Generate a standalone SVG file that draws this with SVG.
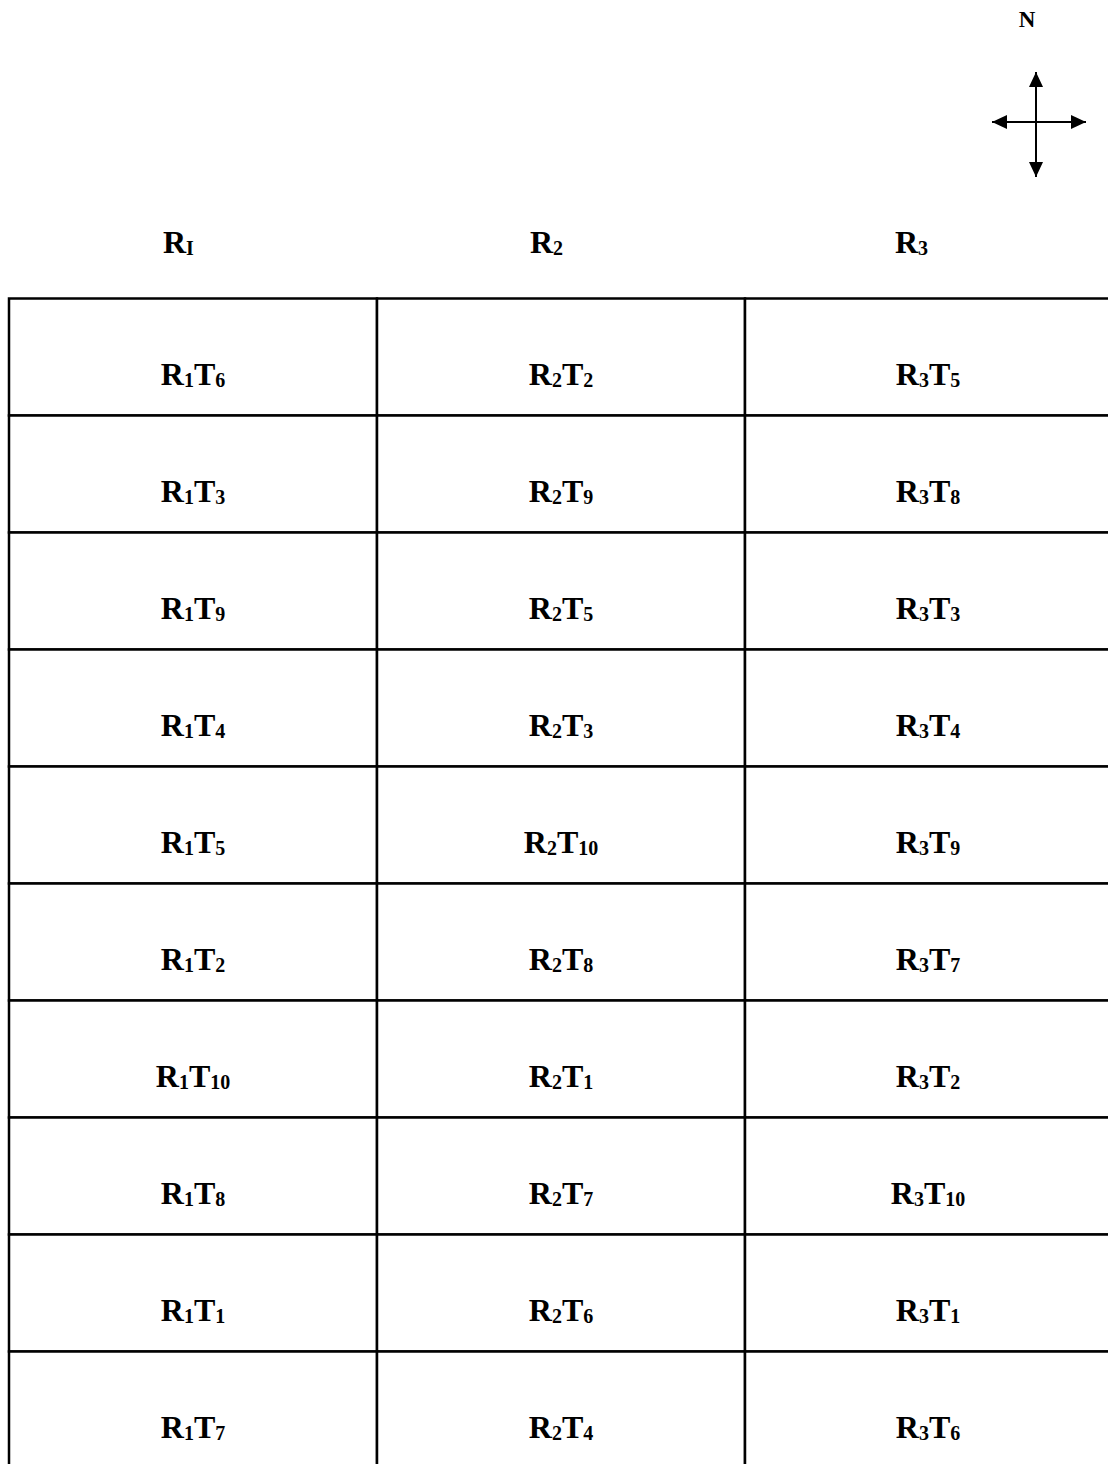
<svg xmlns="http://www.w3.org/2000/svg" width="1108" height="1464" viewBox="0 0 1108 1464">
<style>
text{font-family:"Liberation Serif","Times New Roman",serif;font-weight:bold;fill:#000}
.t{font-size:32px}
.s{font-size:20px}
.n{font-size:23px}
.cell{fill:#fff;stroke:#000;stroke-width:2.5}
.ax{stroke:#000;stroke-width:2;fill:none}
</style>
<defs>
<marker id="ah" markerUnits="userSpaceOnUse" markerWidth="16" markerHeight="14" refX="15" refY="7" orient="auto">
<path d="M0,0 L15,7 L0,14 Z" fill="#000"/>
</marker>
</defs>
<rect width="1108" height="1464" fill="#fff"/>
<g id="compass">
<text class="n" x="1027" y="27" text-anchor="middle">N</text>
<g id="connectors">
<line class="ax" x1="1036" y1="122" x2="1036" y2="72" marker-end="url(#ah)"/>
<line class="ax" x1="1036" y1="122" x2="1036" y2="177" marker-end="url(#ah)"/>
<line class="ax" x1="1036" y1="122" x2="992" y2="122" marker-end="url(#ah)"/>
<line class="ax" x1="1036" y1="122" x2="1086" y2="122" marker-end="url(#ah)"/>
</g>
</g>
<g id="headers">
<text class="t" x="163" y="253">R<tspan class="s" dy="2">I</tspan></text>
<text class="t" x="530" y="253">R<tspan class="s" dy="2">2</tspan></text>
<text class="t" x="895" y="253">R<tspan class="s" dy="2">3</tspan></text>
</g>
<g id="table">
<g id="r1c1"><rect class="cell" x="9" y="298.5" width="368" height="117"/><text class="t" x="193" y="385" text-anchor="middle">R<tspan class="s" dy="2">1</tspan><tspan dy="-2">T</tspan><tspan class="s" dy="2">6</tspan></text></g>
<g id="r1c2"><rect class="cell" x="377" y="298.5" width="368" height="117"/><text class="t" x="561" y="385" text-anchor="middle">R<tspan class="s" dy="2">2</tspan><tspan dy="-2">T</tspan><tspan class="s" dy="2">2</tspan></text></g>
<g id="r1c3"><rect class="cell" x="745" y="298.5" width="366" height="117"/><text class="t" x="928" y="385" text-anchor="middle">R<tspan class="s" dy="2">3</tspan><tspan dy="-2">T</tspan><tspan class="s" dy="2">5</tspan></text></g>

<g id="r2c1"><rect class="cell" x="9" y="415.5" width="368" height="117"/><text class="t" x="193" y="502" text-anchor="middle">R<tspan class="s" dy="2">1</tspan><tspan dy="-2">T</tspan><tspan class="s" dy="2">3</tspan></text></g>
<g id="r2c2"><rect class="cell" x="377" y="415.5" width="368" height="117"/><text class="t" x="561" y="502" text-anchor="middle">R<tspan class="s" dy="2">2</tspan><tspan dy="-2">T</tspan><tspan class="s" dy="2">9</tspan></text></g>
<g id="r2c3"><rect class="cell" x="745" y="415.5" width="366" height="117"/><text class="t" x="928" y="502" text-anchor="middle">R<tspan class="s" dy="2">3</tspan><tspan dy="-2">T</tspan><tspan class="s" dy="2">8</tspan></text></g>

<g id="r3c1"><rect class="cell" x="9" y="532.5" width="368" height="117"/><text class="t" x="193" y="619" text-anchor="middle">R<tspan class="s" dy="2">1</tspan><tspan dy="-2">T</tspan><tspan class="s" dy="2">9</tspan></text></g>
<g id="r3c2"><rect class="cell" x="377" y="532.5" width="368" height="117"/><text class="t" x="561" y="619" text-anchor="middle">R<tspan class="s" dy="2">2</tspan><tspan dy="-2">T</tspan><tspan class="s" dy="2">5</tspan></text></g>
<g id="r3c3"><rect class="cell" x="745" y="532.5" width="366" height="117"/><text class="t" x="928" y="619" text-anchor="middle">R<tspan class="s" dy="2">3</tspan><tspan dy="-2">T</tspan><tspan class="s" dy="2">3</tspan></text></g>

<g id="r4c1"><rect class="cell" x="9" y="649.5" width="368" height="117"/><text class="t" x="193" y="736" text-anchor="middle">R<tspan class="s" dy="2">1</tspan><tspan dy="-2">T</tspan><tspan class="s" dy="2">4</tspan></text></g>
<g id="r4c2"><rect class="cell" x="377" y="649.5" width="368" height="117"/><text class="t" x="561" y="736" text-anchor="middle">R<tspan class="s" dy="2">2</tspan><tspan dy="-2">T</tspan><tspan class="s" dy="2">3</tspan></text></g>
<g id="r4c3"><rect class="cell" x="745" y="649.5" width="366" height="117"/><text class="t" x="928" y="736" text-anchor="middle">R<tspan class="s" dy="2">3</tspan><tspan dy="-2">T</tspan><tspan class="s" dy="2">4</tspan></text></g>

<g id="r5c1"><rect class="cell" x="9" y="766.5" width="368" height="117"/><text class="t" x="193" y="853" text-anchor="middle">R<tspan class="s" dy="2">1</tspan><tspan dy="-2">T</tspan><tspan class="s" dy="2">5</tspan></text></g>
<g id="r5c2"><rect class="cell" x="377" y="766.5" width="368" height="117"/><text class="t" x="561" y="853" text-anchor="middle">R<tspan class="s" dy="2">2</tspan><tspan dy="-2">T</tspan><tspan class="s" dy="2">10</tspan></text></g>
<g id="r5c3"><rect class="cell" x="745" y="766.5" width="366" height="117"/><text class="t" x="928" y="853" text-anchor="middle">R<tspan class="s" dy="2">3</tspan><tspan dy="-2">T</tspan><tspan class="s" dy="2">9</tspan></text></g>

<g id="r6c1"><rect class="cell" x="9" y="883.5" width="368" height="117"/><text class="t" x="193" y="970" text-anchor="middle">R<tspan class="s" dy="2">1</tspan><tspan dy="-2">T</tspan><tspan class="s" dy="2">2</tspan></text></g>
<g id="r6c2"><rect class="cell" x="377" y="883.5" width="368" height="117"/><text class="t" x="561" y="970" text-anchor="middle">R<tspan class="s" dy="2">2</tspan><tspan dy="-2">T</tspan><tspan class="s" dy="2">8</tspan></text></g>
<g id="r6c3"><rect class="cell" x="745" y="883.5" width="366" height="117"/><text class="t" x="928" y="970" text-anchor="middle">R<tspan class="s" dy="2">3</tspan><tspan dy="-2">T</tspan><tspan class="s" dy="2">7</tspan></text></g>

<g id="r7c1"><rect class="cell" x="9" y="1000.5" width="368" height="117"/><text class="t" x="193" y="1087" text-anchor="middle">R<tspan class="s" dy="2">1</tspan><tspan dy="-2">T</tspan><tspan class="s" dy="2">10</tspan></text></g>
<g id="r7c2"><rect class="cell" x="377" y="1000.5" width="368" height="117"/><text class="t" x="561" y="1087" text-anchor="middle">R<tspan class="s" dy="2">2</tspan><tspan dy="-2">T</tspan><tspan class="s" dy="2">1</tspan></text></g>
<g id="r7c3"><rect class="cell" x="745" y="1000.5" width="366" height="117"/><text class="t" x="928" y="1087" text-anchor="middle">R<tspan class="s" dy="2">3</tspan><tspan dy="-2">T</tspan><tspan class="s" dy="2">2</tspan></text></g>

<g id="r8c1"><rect class="cell" x="9" y="1117.5" width="368" height="117"/><text class="t" x="193" y="1204" text-anchor="middle">R<tspan class="s" dy="2">1</tspan><tspan dy="-2">T</tspan><tspan class="s" dy="2">8</tspan></text></g>
<g id="r8c2"><rect class="cell" x="377" y="1117.5" width="368" height="117"/><text class="t" x="561" y="1204" text-anchor="middle">R<tspan class="s" dy="2">2</tspan><tspan dy="-2">T</tspan><tspan class="s" dy="2">7</tspan></text></g>
<g id="r8c3"><rect class="cell" x="745" y="1117.5" width="366" height="117"/><text class="t" x="928" y="1204" text-anchor="middle">R<tspan class="s" dy="2">3</tspan><tspan dy="-2">T</tspan><tspan class="s" dy="2">10</tspan></text></g>

<g id="r9c1"><rect class="cell" x="9" y="1234.5" width="368" height="117"/><text class="t" x="193" y="1321" text-anchor="middle">R<tspan class="s" dy="2">1</tspan><tspan dy="-2">T</tspan><tspan class="s" dy="2">1</tspan></text></g>
<g id="r9c2"><rect class="cell" x="377" y="1234.5" width="368" height="117"/><text class="t" x="561" y="1321" text-anchor="middle">R<tspan class="s" dy="2">2</tspan><tspan dy="-2">T</tspan><tspan class="s" dy="2">6</tspan></text></g>
<g id="r9c3"><rect class="cell" x="745" y="1234.5" width="366" height="117"/><text class="t" x="928" y="1321" text-anchor="middle">R<tspan class="s" dy="2">3</tspan><tspan dy="-2">T</tspan><tspan class="s" dy="2">1</tspan></text></g>

<g id="r10c1"><rect class="cell" x="9" y="1351.5" width="368" height="117"/><text class="t" x="193" y="1438" text-anchor="middle">R<tspan class="s" dy="2">1</tspan><tspan dy="-2">T</tspan><tspan class="s" dy="2">7</tspan></text></g>
<g id="r10c2"><rect class="cell" x="377" y="1351.5" width="368" height="117"/><text class="t" x="561" y="1438" text-anchor="middle">R<tspan class="s" dy="2">2</tspan><tspan dy="-2">T</tspan><tspan class="s" dy="2">4</tspan></text></g>
<g id="r10c3"><rect class="cell" x="745" y="1351.5" width="366" height="117"/><text class="t" x="928" y="1438" text-anchor="middle">R<tspan class="s" dy="2">3</tspan><tspan dy="-2">T</tspan><tspan class="s" dy="2">6</tspan></text></g>
</g>
</svg>
